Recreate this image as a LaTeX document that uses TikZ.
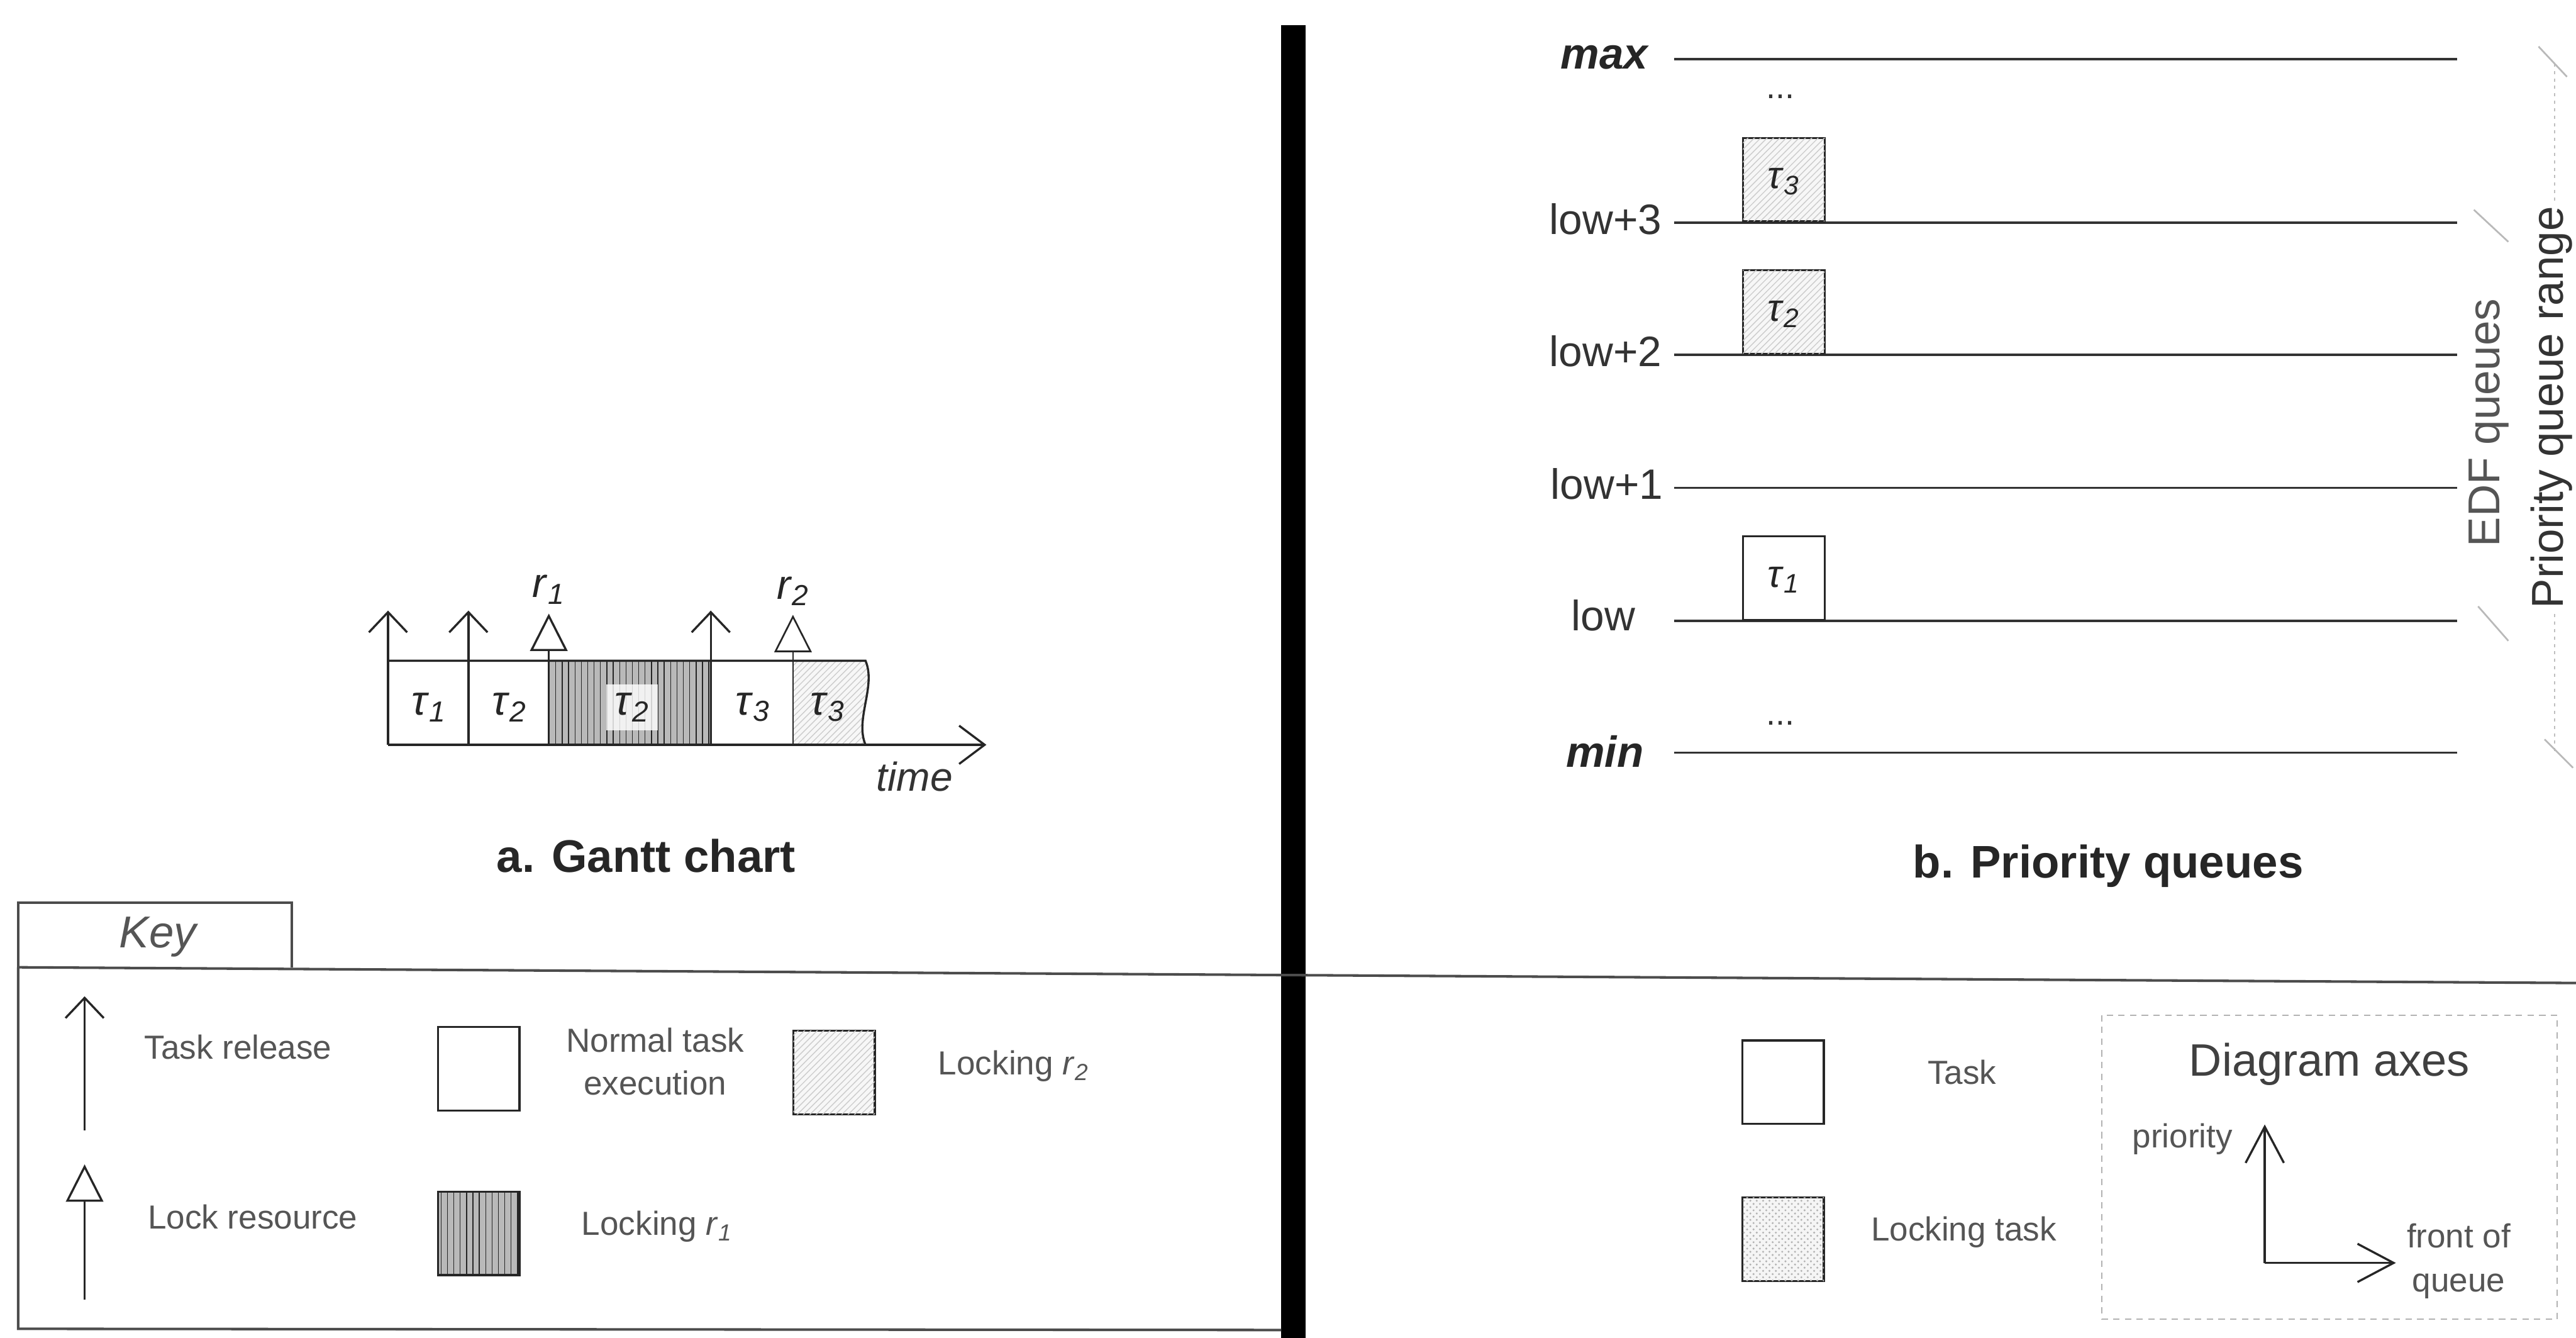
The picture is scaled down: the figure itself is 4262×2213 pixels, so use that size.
\documentclass[tikz,border=0pt]{standalone}
\usepackage{fontspec}
\setmainfont{Liberation Sans}
\usetikzlibrary{arrows.meta,patterns}
\definecolor{ink}{HTML}{262626}
\definecolor{keyg}{HTML}{555555}
\definecolor{qtext}{HTML}{333333}
\definecolor{faint}{HTML}{BDBDBD}
\newcommand{\tk}[1]{\textit{τ}\textsubscript{\textit{#1}}}
\newcommand{\rk}[1]{\textit{r}\textsubscript{\textit{#1}}}
\tikzset{
  gline/.style={draw=ink, line width=1pt},
  keyline/.style={draw=black!70, line width=1.2pt},
  relarrow/.style={-{Straight Barb[length=9.5pt,width=18pt]}},
  lockarrow/.style={-{Triangle[open,length=17.6pt,width=17.6pt]}},
  axarrow/.style={-{Straight Barb[length=17pt,width=18pt]}},
  timearrow/.style={-{Straight Barb[length=12pt,width=18pt]}},
  capt/.style={font=\fontsize{21.5}{26}\selectfont\bfseries, text=ink},
  qlab/.style={font=\fontsize{20}{24}\selectfont, text=qtext, inner sep=0pt},
  qlabb/.style={font=\fontsize{20.5}{24}\selectfont\bfseries\itshape, text=ink, inner sep=0pt},
  keyt/.style={font=\fontsize{15.7}{20}\selectfont, text=keyg, align=center},
  tlab/.style={font=\fontsize{19.5}{22}\selectfont, text=ink},
  tbox/.style={draw=ink, line width=1pt, inner sep=0pt, minimum width=1.35cm, minimum height=1.38cm, font=\fontsize{18}{20}\selectfont, text=ink},
  lighthatch/.style={fill=gray!6, postaction={pattern=north east lines, pattern color=gray!40}},
  darkhatch/.style={fill=gray!55, postaction={pattern=vertical lines, pattern color=black!85}},
  dothatch/.style={fill=gray!8, postaction={pattern=crosshatch dots, pattern color=gray!60}},
  qline/.style={draw=qtext, line width=1.1pt},
  tick/.style={draw=gray!55, line width=0.8pt},
}
\begin{document}
\begin{tikzpicture}[x=0.01cm, y=-0.01cm]
\useasboundingbox (0,0) rectangle (4262,2213);
\fill[white] (0,0) rectangle (4262,2213);

% ---------- dividers ----------
\fill[black] (2120,42) rectangle (2160,2213);
\draw[keyline] (30,1600) -- (4262,1626);

% ---------- Gantt chart ----------
\coordinate (g0) at (642,1232);
\coordinate (g1) at (775,1232);
\coordinate (g2) at (908,1232);
\coordinate (g3) at (1176,1232);
\coordinate (g4) at (1312,1232);
\coordinate (tend) at (1632,1232);
\coordinate (a0) at (642,1010);
\coordinate (a1) at (775,1010);
\coordinate (a2) at (908,1015);
\coordinate (a3) at (1176,1010);
\coordinate (a4) at (1312,1017);

\fill[gray!55] (908,1093) rectangle (1176,1232);
\fill[pattern=vertical lines, pattern color=black!85] (908,1093) rectangle (1176,1232);
\path[lighthatch] (1312,1093) -- (1432,1093) .. controls (1450,1135) and (1414,1190) .. (1432,1232) -- (1312,1232) -- cycle;

\draw[gline] (642,1093) -- (1432,1093) .. controls (1450,1135) and (1414,1190) .. (1432,1232);
\draw[gline, timearrow] (g0) -- (tend);
\draw[gline, relarrow] (g0) -- (a0);
\draw[gline, relarrow] (g1) -- (a1);
\draw[gline, relarrow] (g3) -- (a3);
\draw[gline, lockarrow] (g2) -- (a2);
\draw[gline, lockarrow, line width=0.8pt] (g4) -- (a4);

\node[tlab] (r1) at (908,975) {\rk{1}};
\node[tlab] (r2) at (1312,978) {\rk{2}};
\node[tlab] (c1) at (710,1170) {\tk{1}};
\node[tlab] (c2) at (843,1170) {\tk{2}};
\node[tlab, fill=white, fill opacity=0.8, text opacity=1, inner sep=4pt] (c3) at (1046,1170) {\tk{2}};
\node[tlab] (c4) at (1246,1170) {\tk{3}};
\node[tlab] (c5) at (1369,1170) {\tk{3}};
\node[font=\fontsize{19}{22}\selectfont\itshape, text=qtext] (time) at (1513,1285) {time};
\node[capt] (capa) at (1069,1416) {a. Gantt chart};

% ---------- Key (left) ----------
\draw[keyline] (30,1600) -- (30,1493) -- (483,1493) -- (483,1600);
\draw[keyline] (30,1600) -- (30,2198) -- (2120,2200);
\node[font=\fontsize{21}{25}\selectfont\itshape, text=keyg] (key) at (261,1550) {Key};

\coordinate (kr0) at (140,1870);
\coordinate (kr1) at (140,1648);
\coordinate (kl0) at (140,2150);
\coordinate (kl1) at (140,1926);
\draw[gline, relarrow] (kr0) -- (kr1);
\draw[gline, lockarrow] (kl0) -- (kl1);
\node[keyt] (ktr) at (394,1732) {Task release};
\node[keyt] (klr) at (418,2013) {Lock resource};

\node[tbox] (knorm) at (792,1768) {};
\node[keyt] (knormt) at (1084,1756) {Normal task\\execution};
\node[tbox, lighthatch] (kr2) at (1380,1774) {};
\node[keyt] (kr2t) at (1677,1763) {Locking \rk{2}};
\node[tbox, darkhatch] (kr1b) at (792,2040) {};
\node[keyt] (kr1t) at (1087,2029) {Locking \rk{1}};

% ---------- Priority queues ----------
\foreach \n/\yy in {qmax/98, q3/368, q2/587, q1/807, q0/1027, qmin/1245}{
  \coordinate (\n L) at (2770,\yy);
  \coordinate (\n R) at (4065,\yy);
  \draw[qline] (\n L) -- (\n R);
}
\node[qlabb, anchor=east] (lmax) at (2727,95) {max};
\node[qlab, anchor=east] (l3) at (2750,362) {low+3};
\node[qlab, anchor=east] (l2) at (2750,581) {low+2};
\node[qlab, anchor=east] (l1) at (2752,801) {low+1};
\node[qlab] (l0) at (2653,1018) {low};
\node[qlabb, anchor=east] (lmin) at (2720,1243) {min};
\node[font=\fontsize{16}{18}\selectfont, text=qtext] (dots1) at (2946,160) {...};
\node[font=\fontsize{16}{18}\selectfont, text=qtext] (dots2) at (2946,1196) {...};

\node[tbox, lighthatch, anchor=south west] (t3) at (2882,368) {\raisebox{-1.2ex}{\tk{3}}};
\node[tbox, lighthatch, anchor=south west] (t2) at (2882,587) {\raisebox{-1.2ex}{\tk{2}}};
\node[tbox, anchor=south west] (t1) at (2882,1027) {\raisebox{-1.2ex}{\tk{1}}};

% brackets
\draw[tick] (4093,347) -- (4150,400);
\draw[tick] (4100,1003) -- (4150,1060);
\node[font=\fontsize{21}{25}\selectfont, text=keyg, rotate=90] (edf) at (4118,699) {EDF queues};
\draw[draw=gray!50, line width=0.6pt, dash pattern=on 1.5pt off 2pt] (4227,105) -- (4227,1245);
\draw[tick] (4200,77) -- (4247,127);
\draw[tick] (4210,1223) -- (4257,1270);
\node[font=\fontsize{21}{25}\selectfont, text=qtext, rotate=90, fill=white, inner sep=2pt] (prange) at (4222,674) {Priority queue range};

\node[capt] (capb) at (3488,1432) {b. Priority queues};

% ---------- Key (right) ----------
\node[tbox] (ktask) at (2950,1790) {};
\node[keyt] (ktaskt) at (3246,1774) {Task};
\node[tbox, dothatch] (klock) at (2950,2050) {};
\node[keyt] (klockt) at (3249,2038) {Locking task};

\draw[draw=gray!60, line width=0.6pt, dash pattern=on 3pt off 2.5pt] (3477,1679) rectangle (4231,2182);
\node[font=\fontsize{21.4}{25}\selectfont, text=black!75] (dax) at (3854,1760) {Diagram axes};
\coordinate (ax0) at (3747,2089);
\coordinate (axu) at (3747,1860);
\coordinate (axr) at (3964,2089);
\draw[gline, axarrow] (ax0) -- (axu);
\draw[gline, axarrow] (ax0) -- (axr);
\node[keyt] (prio) at (3611,1884) {priority};
\node[keyt, font=\fontsize{15.7}{20.5}\selectfont] (front) at (4068,2086) {front of\\queue};
\end{tikzpicture}
\end{document}
